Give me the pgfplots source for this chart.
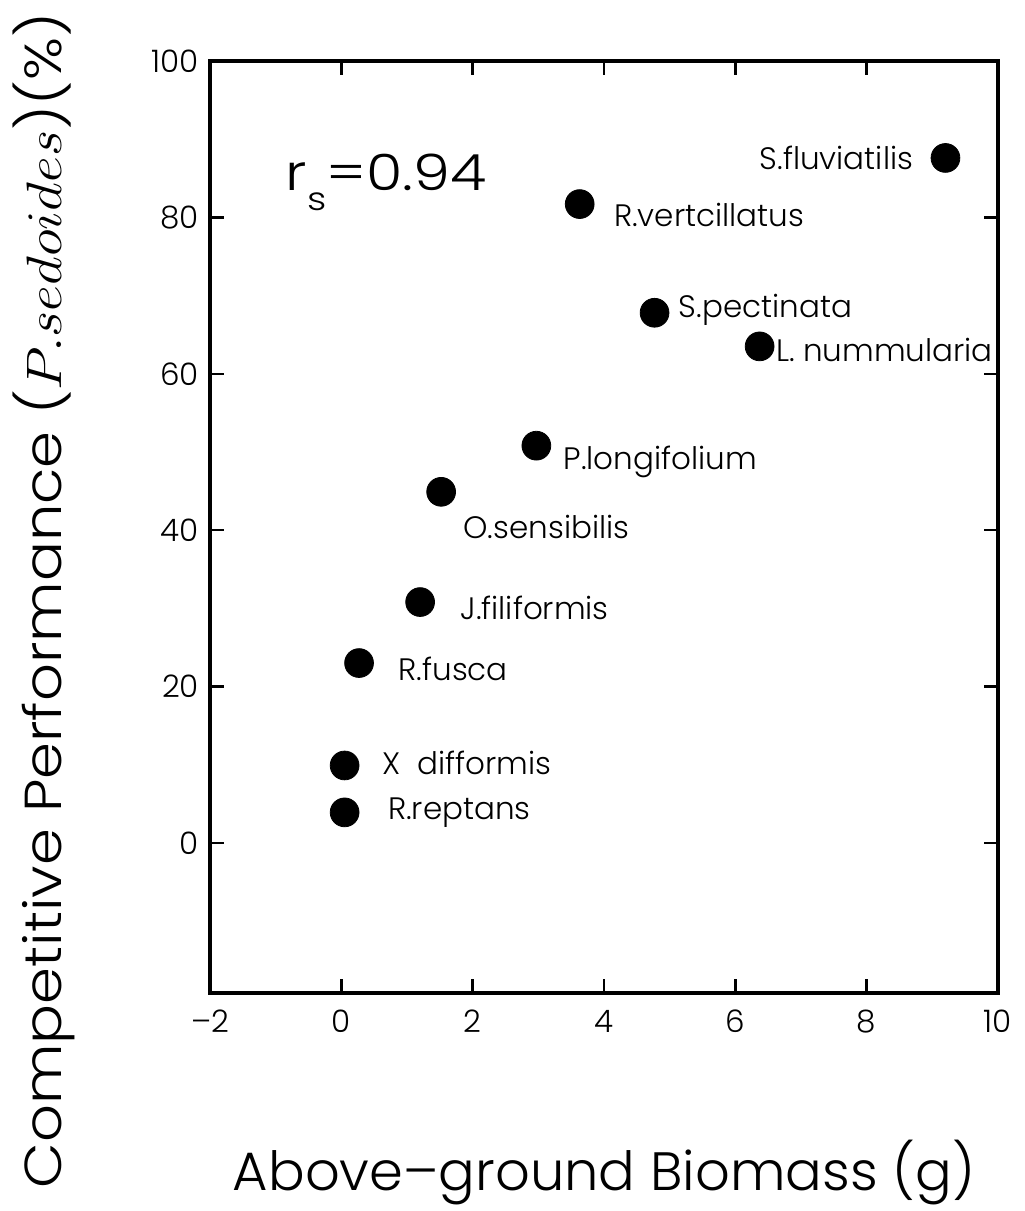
\documentclass[border=0pt]{standalone}
\usepackage{pgfplots}
\pgfplotsset{compat=1.18}
\usepackage{fontspec}
\setmainfont{Poppins}[UprightFont={* Light}]

% scale a box horizontally to a given width, keep its height
\newsavebox\lbox
\newcommand\fitw[2]{\sbox\lbox{#2}\pgfmathsetmacro\sx{#1/\the\wd\lbox}\scalebox{\sx}[1]{\usebox\lbox}}
\tikzset{lbl/.style={font=\fontsize{15.5}{15.5}\selectfont, inner sep=0pt}}

\begin{document}
\begin{tikzpicture}
\begin{axis}[
  name=ax,
  scale only axis,
  width=394pt, height=466pt,
  xmin=-2, xmax=10, ymin=-19.2, ymax=100,
  xtick={-2,0,...,10},
  xticklabels={--2,0,2,4,6,8,10},
  ytick={0,20,...,100},
  tick align=inside,
  major tick length=7pt,
  axis line style={line width=1.6pt},
  every tick/.style={line width=1.2pt, black},
  ticklabel style={font=\fontsize{15.5}{15.5}\selectfont},
  /pgf/number format/assume math mode=true,
  xticklabel style={yshift=-5pt},
  yticklabel style={xshift=-2pt},
  clip=false,
]
\addplot[only marks, mark=*, mark size=7.2pt, black] coordinates {
  (9.20,87.6) (3.63,81.7) (4.77,67.8) (6.37,63.5) (2.97,50.8)
  (1.52,44.9) (1.20,30.8) (0.27,23.0) (0.05,9.9) (0.05,3.9)
};
\node[lbl, anchor=east, xshift=-16pt] at (axis cs:9.20,87.6) {S.fluviatilis};
\node[lbl, anchor=west, xshift=17pt, yshift=-5.5pt] at (axis cs:3.63,81.7) {R.vertcillatus};
\node[lbl, anchor=west, xshift=12pt, yshift=1.5pt] at (axis cs:4.77,67.8) {S.pectinata};
\node[lbl, anchor=west, xshift=8pt, yshift=-2pt] at (axis cs:6.37,63.5) {L. nummularia};
\node[lbl, anchor=west, xshift=13.5pt, yshift=-8pt] at (axis cs:2.97,50.8) {P.longifolium};
\node[lbl, anchor=west, xshift=11pt, yshift=-17.5pt] at (axis cs:1.52,44.9) {O.sensibilis};
\node[lbl, anchor=west, xshift=20pt, yshift=-3pt] at (axis cs:1.20,30.8) {J.filiformis};
\node[lbl, anchor=west, xshift=19.5pt, yshift=-3pt] at (axis cs:0.27,23.0) {R.fusca};
\node[lbl, anchor=west, xshift=18.5pt, yshift=1.5pt] at (axis cs:0.05,9.9) {X\ \ difformis};
\node[lbl, anchor=west, xshift=21.5pt] at (axis cs:0.05,3.9) {R.reptans};
% correlation
\node[anchor=base west, inner sep=0pt, font=\fontsize{25}{25}\selectfont]
  at (axis cs:-0.85,83.5) {\scalebox{1.18}[1]{r\raisebox{-10pt}{\fontsize{16}{16}\selectfont s}=0.94}};
% axis titles
\node[anchor=base, inner sep=0pt, font=\fontsize{27}{27}\selectfont]
  at ([yshift=-98.5pt]rel axis cs:0.5,0) {\fitw{371pt}{Above--ground Biomass (g)}};
\node[anchor=base, inner sep=0pt, rotate=90, font=\fontsize{26}{26}\selectfont]
  at ([xshift=-74pt]rel axis cs:0,0.421) {\fitw{588pt}{Competitive Performance ($P.sedoides$)(\%)}};
\end{axis}
\pgfresetboundingbox
\path[use as bounding box] ([shift={(-105pt,-109pt)}]ax.south west) rectangle ([shift={(13pt,30.5pt)}]ax.north east);
\end{tikzpicture}
\end{document}
